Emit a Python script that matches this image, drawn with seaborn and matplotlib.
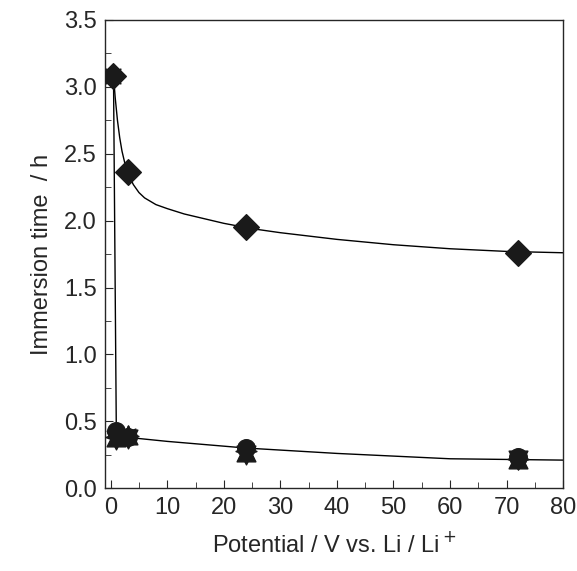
import matplotlib
matplotlib.use("Agg")
import seaborn as sns
import pandas as pd
from matplotlib import pyplot as plt
from matplotlib.ticker import MultipleLocator

sns.set_style("ticks")
plt.rcParams['font.family'] = ['Liberation Sans', 'DejaVu Sans']

# markers
dia_x = [0.5, 3, 24, 72]
dia_y = [3.08, 2.36, 1.95, 1.76]
circ_x = [0.5, 1, 3, 24, 72]
circ_y = [3.08, 0.43, 0.38, 0.30, 0.23]
tri_x = [1, 3, 24, 72]
tri_up_y = [0.38, 0.40, 0.27, 0.22]
tri_dn_y = [0.36, 0.37, 0.25, 0.21]
star_x = [0.5, 1, 3, 24, 72]
star_y = [3.08, 0.38, 0.39, 0.28, 0.22]

# guide curves
up_cx = [0.5, 0.8, 1.2, 1.6, 2, 2.5, 3, 4, 5, 6, 8, 10, 13, 16, 20, 25, 30, 40, 50, 60, 70, 80]
up_cy = [3.08, 2.92, 2.75, 2.62, 2.52, 2.43, 2.36, 2.27, 2.21, 2.17, 2.12, 2.09, 2.05, 2.02, 1.98, 1.94, 1.91, 1.86, 1.82, 1.79, 1.77, 1.76]
lo_cx = [0.5, 1, 3, 10, 24, 40, 60, 80]
lo_cy = [3.08, 0.42, 0.38, 0.35, 0.30, 0.26, 0.22, 0.21]

fig, ax = plt.subplots(figsize=(5.77, 5.71), dpi=100)
fig.subplots_adjust(left=0.182, right=0.976, top=0.965, bottom=0.145)

sns.lineplot(x=up_cx, y=up_cy, ax=ax, color="black", lw=1, sort=False)
sns.lineplot(x=lo_cx, y=lo_cy, ax=ax, color="black", lw=1, sort=False)
kw = dict(ax=ax, color="#1a1a1a", edgecolor="#1a1a1a", zorder=3, legend=False)
sns.scatterplot(x=tri_x, y=tri_up_y, marker="^", s=180, **kw)
sns.scatterplot(x=tri_x, y=tri_dn_y, marker="v", s=180, **kw)
sns.scatterplot(x=star_x, y=star_y, marker=(8, 1, 0), s=220, **kw)
sns.scatterplot(x=circ_x, y=circ_y, marker="o", s=160, **kw)
sns.scatterplot(x=dia_x, y=dia_y, marker="D", s=170, **kw)

ax.set_xlim(-1, 80)
ax.set_ylim(0, 3.5)
ax.xaxis.set_major_locator(MultipleLocator(10))
ax.xaxis.set_minor_locator(MultipleLocator(5))
ax.yaxis.set_major_locator(MultipleLocator(0.5))
ax.yaxis.set_minor_locator(MultipleLocator(0.25))
ax.tick_params(which="both", direction="in", top=False, right=False, labelsize=17, pad=6)
ax.tick_params(which="major", length=6)
ax.tick_params(which="minor", length=4)
ax.set_xlabel("Potential / V vs. Li / Li$^+$", fontsize=17, labelpad=10)
ax.set_ylabel("Immersion time  / h", fontsize=17, labelpad=8)
for s in ax.spines.values():
    s.set_linewidth(1)
fig.savefig("out.png")
